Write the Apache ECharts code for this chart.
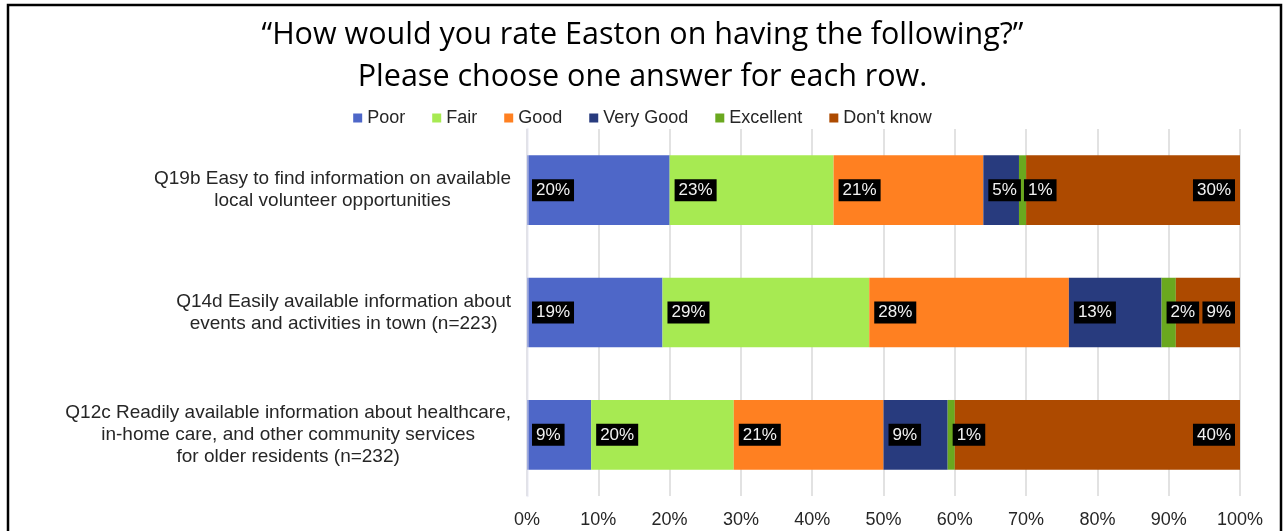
<!DOCTYPE html>
<html>
<head>
<meta charset="utf-8">
<script src="https://cdn.jsdelivr.net/npm/echarts@6/dist/echarts.min.js"></script>
<style>
  html, body { margin: 0; padding: 0; background: #fff; }
  #chart { width: 1285px; height: 531px; }
</style>
</head>
<body>
<div id="chart"></div>
<script>
// Survey items (top to bottom)
const categories = [
  'Q19b Easy to find information on available\nlocal volunteer opportunities',
  'Q14d Easily available information about\nevents and activities in town (n=223)',
  'Q12c Readily available information about healthcare,\nin-home care, and other community services\nfor older residents (n=232)'
];

// Rating shares, percent of respondents per item
const poor      = [20, 19, 9];
const fair      = [23, 29, 20];
const good      = [21, 28, 21];
const veryGood  = [5, 13, 9];
const excellent = [1, 2, 1];
const dontKnow  = [30, 9, 40];

const tickLabels = ['0%', '10%', '20%', '30%', '40%', '50%', '60%', '70%', '80%', '90%', '100%'];

const seriesDefs = [
  { name: 'Poor',      data: poor,      color: '#4E67C8', pos: 'insideLeft' },
  { name: 'Fair',      data: fair,      color: '#A7EA52', pos: 'insideLeft' },
  { name: 'Good',      data: good,      color: '#FF8021', pos: 'insideLeft' },
  { name: 'Very Good', data: veryGood,  color: '#283B7E', pos: 'insideLeft' },
  { name: 'Excellent', data: excellent, color: '#6AA81F', pos: 'insideLeft' },
  { name: "Don't know", data: dontKnow, color: '#AD4A00', pos: 'insideRight' }
];

const chart = echarts.init(document.getElementById('chart'), null, { renderer: 'canvas' });

const option = {
  backgroundColor: '#ffffff',
  animation: false,
  title: {
    text: '\u201CHow would you rate Easton on having the following?\u201D\nPlease choose one answer for each row.',
    left: 'center',
    top: 9,
    textStyle: {
      fontFamily: 'Open Sans',
      fontSize: 30.5,
      fontWeight: 'normal',
      color: '#000',
      lineHeight: 42
    }
  },
  legend: {
    top: 104,
    left: 'center',
    itemWidth: 9,
    itemHeight: 9,
    itemGap: 27,
    icon: 'rect',
    textStyle: { fontFamily: 'Arial, Liberation Sans', fontSize: 18, color: '#262626' },
    data: seriesDefs.map(s => s.name)
  },
  grid: { left: 527, right: 45, top: 129, height: 367, containLabel: false },
  xAxis: {
    type: 'value',
    min: 0,
    max: 100,
    interval: 10,
    axisLine: { show: false },
    axisTick: { show: false },
    splitLine: { lineStyle: { color: '#d9d9d9', width: 1.5 } },
    axisLabel: {
      margin: 15,
      fontFamily: 'Arial, Liberation Sans',
      fontSize: 18,
      color: '#262626',
      formatter: (v) => tickLabels[Math.round(v / 10)]
    }
  },
  yAxis: {
    type: 'category',
    inverse: true,
    data: categories,
    z: 5,
    axisLine: { show: true, lineStyle: { color: 'rgba(225,228,240,0.55)', width: 2.5 } },
    axisTick: { show: false },
    axisLabel: {
      margin: 16,
      align: 'right',
      formatter: (v) => v.split('\n').map(l => '{c|' + l + '}').join('\n'),
      rich: {
        c: {
          align: 'center',
          fontFamily: 'Arial, Liberation Sans',
          fontSize: 19,
          lineHeight: 22,
          color: '#262626'
        }
      }
    }
  },
  series: seriesDefs.map(s => ({
    name: s.name,
    type: 'bar',
    stack: 'total',
    barWidth: '57%',
    data: s.data,
    itemStyle: { color: s.color },
    label: {
      show: true,
      position: s.pos,
      distance: 5,
      formatter: '{c}%',
      fontFamily: 'Arial, Liberation Sans',
      fontSize: 17,
      color: '#f2f2f2',
      backgroundColor: '#000',
      padding: [3, 4, 2, 4]
    }
  })),
  graphic: [{
    type: 'rect',
    silent: true,
    z: 100,
    shape: { x: 8, y: 5, width: 1273, height: 540 },
    style: { fill: 'none', stroke: '#000', lineWidth: 2.5 }
  }]
};

chart.setOption(option);
</script>
</body>
</html>
